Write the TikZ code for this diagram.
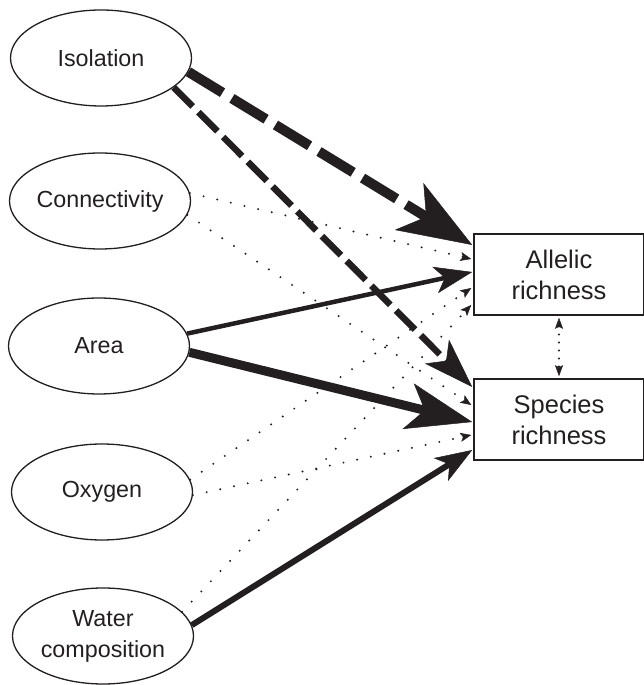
\documentclass[tikz,border=0pt]{standalone}
\usepackage{fontspec}
\setmainfont{Liberation Sans}
\usetikzlibrary{arrows.meta,calc,shapes.geometric}
\definecolor{inkgray}{RGB}{35,31,32}

\begin{document}
\begin{tikzpicture}[x=1pt,y=1pt,
    every node/.style={text=inkgray,font=\fontsize{23.3}{31}\selectfont},
    factor/.style={draw=inkgray,line width=1.3pt,ellipse,minimum width=181pt,minimum height=96pt,inner sep=0pt,align=center},
    outcome/.style={draw=inkgray,line width=1.5pt,rectangle,minimum width=170pt,minimum height=81pt,inner sep=0pt,align=center,font=\fontsize{25.5}{31}\selectfont},
    weak/.style={draw=inkgray,line width=2.2pt,line cap=round,dash pattern=on 0pt off 14pt,-{Stealth[length=11pt,width=9pt,inset=2.5pt,line width=0.5pt]}},
    linked/.style={draw=inkgray,line width=2.2pt,line cap=round,dash pattern=on 0pt off 8pt,shorten <=2pt,shorten >=2pt,{Stealth[length=11pt,width=8pt,inset=2pt,line width=0.5pt]}-{Stealth[length=11pt,width=8pt,inset=2pt,line width=0.5pt]}}]
    \useasboundingbox (0,0) rectangle (643,685);

    % predictors
    \node[factor] (iso) at (101,627) {Isolation};
    \node[factor] (conn) at (100,484) {Connectivity};
    \node[factor] (area) at (99,339) {Area};
    \node[factor] (oxy) at (102,193) {Oxygen};
    \node[factor] (water) at (103,49) {Water\\composition};

    % responses
    \node[outcome] (all) at (559,410.5) {Allelic\\richness};
    \node[outcome] (spe) at (559,265.5) {Species\\richness};

    % isolation
    \draw[inkgray,line width=10pt,dash pattern=on 40pt off 11pt,-{Stealth[length=74pt,width=55pt,inset=20pt,line width=0.5pt]}] (iso.-9) -- ($(all.west)+(-1,29.5)$);
    \draw[inkgray,line width=6.5pt,dash pattern=on 27pt off 8pt,-{Stealth[length=50pt,width=34pt,inset=13pt,line width=0.5pt]}] (iso.-22) -- ($(spe.west)+(-1,32.5)$);

    % connectivity
    \draw[weak] (conn.5) -- ($(all.west)+(-2,15.5)$);
    \draw[weak] (conn.-9) -- ($(spe.west)+(-2,14.5)$);

    % area
    \draw[inkgray,line width=4.5pt,-{Stealth[length=38pt,width=27pt,inset=10pt,line width=0.5pt]}] (area.8) -- ($(all.west)+(-1,2.5)$);
    \draw[inkgray,line width=9pt,-{Stealth[length=66pt,width=47pt,inset=17pt,line width=0.5pt]}] (area.-4) -- ($(spe.west)+(-1,-2.5)$);

    % oxygen
    \draw[weak] (oxy.8) -- ($(all.west)+(-2,-13.5)$);
    \draw[weak] (oxy.-2) -- ($(spe.west)+(-2,-15.5)$);

    % water composition
    \draw[weak] (water.17) -- ($(all.west)+(-2,-30.5)$);
    \draw[inkgray,line width=6pt,-{Stealth[length=37pt,width=27pt,inset=10pt,line width=0.5pt]}] (water.7) -- ($(spe.west)+(-1,-30.5)$);

    % between responses
    \draw[linked] (all.south) -- (spe.north);
\end{tikzpicture}
\end{document}
